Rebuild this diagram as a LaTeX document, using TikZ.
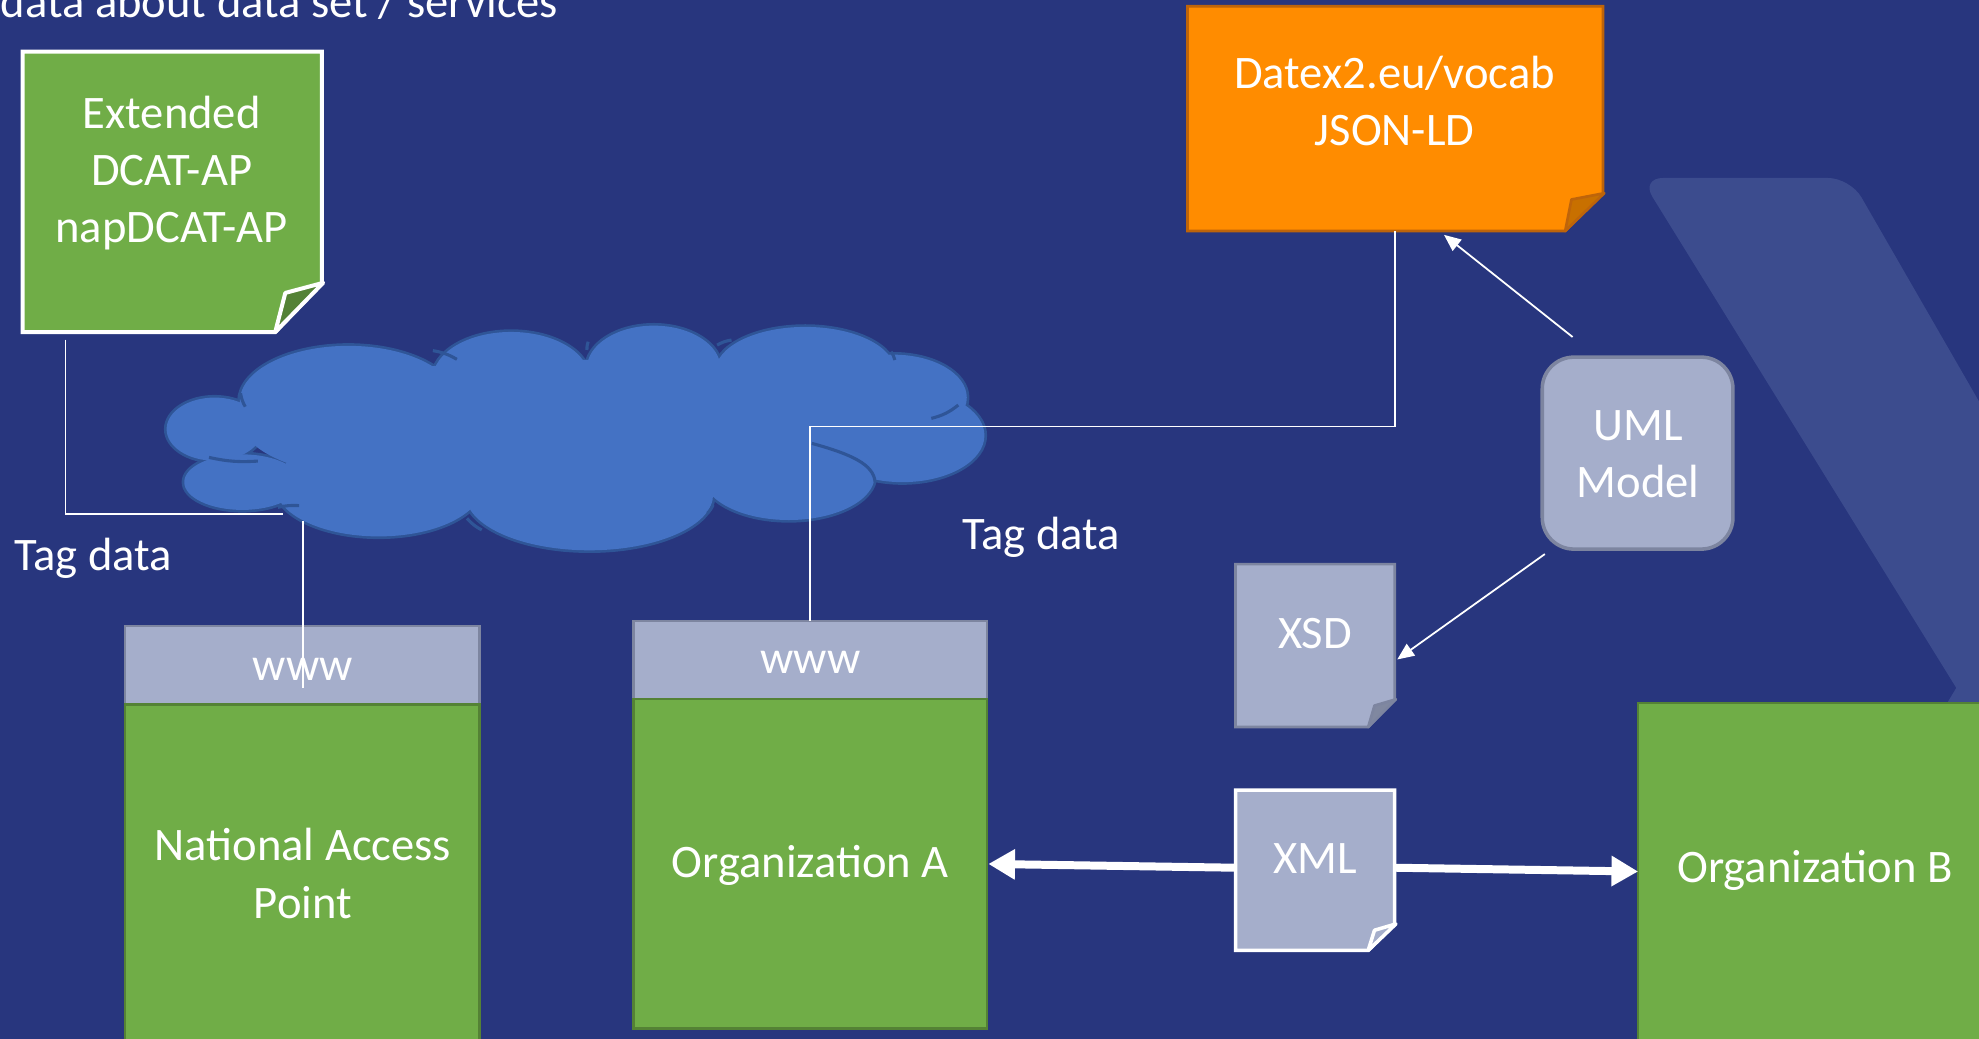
\documentclass[tikz,border=0pt]{standalone}
\usepackage{fontspec}
\setmainfont{Carlito}
\usetikzlibrary{calc,arrows.meta}
\definecolor{bg}{RGB}{40,54,126}
\definecolor{deco}{RGB}{60,76,142}
\definecolor{grn}{RGB}{112,173,71}
\definecolor{grnd}{RGB}{84,130,53}
\definecolor{grnb}{RGB}{84,130,53}
\definecolor{orng}{RGB}{255,140,0}
\definecolor{orngd}{RGB}{200,112,0}
\definecolor{orngb}{RGB}{190,100,10}
\definecolor{lav}{RGB}{165,174,203}
\definecolor{lavd}{RGB}{128,136,160}
\definecolor{lavb}{RGB}{125,133,160}
\definecolor{cloudf}{RGB}{68,114,196}
\definecolor{cloudb}{RGB}{47,85,151}
\begin{document}
\begin{tikzpicture}[x=0.01cm,y=-0.01cm,
  font=\fontsize{10.5}{12.9}\selectfont,
  txt/.style={text=white,align=center,inner sep=0pt},
  boxn/.style={rectangle,inner sep=0pt,outer sep=0pt},
  wwwbox/.style={boxn,fill=lav,draw=lavb,line width=0.6pt},
  orgbox/.style={boxn,fill=grn,draw=grnb,line width=0.6pt},
  thinline/.style={draw=white,line width=0.4pt},
  thinarrow/.style={draw=white,line width=0.4pt,-{Triangle[length=3.8pt,width=3.2pt]}},
  thickarrow/.style={draw=white,line width=1.8pt,-{Triangle[length=6pt,width=6.5pt]}},
  cloudpuff/.style={fill=cloudf,draw=cloudb,line width=1.2pt},
  hook/.style={draw=cloudb,line width=0.7pt}
]
\useasboundingbox (0,0) rectangle (1568,823);
\clip (0,0) rectangle (1568,823);
\fill[bg] (0,0) rectangle (1568,823);
% decorative band
\fill[deco] (1380,141) [rounded corners=5pt] -- (1466,141) [sharp corners] -- (1640,443) -- (1640,830) -- (1379,830) -- (1550,545) [rounded corners=5pt] -- (1300,141) [sharp corners] -- cycle;

% title
\node[txt,anchor=base east] (title) at (443,14) {data about data set / services};

% green note
\node[boxn,minimum width=2.37cm,minimum height=2.22cm] (gnote) at (136.5,152) {};
\fill[grn,draw=white,line width=0.9pt] (gnote.north west) -- (gnote.north east) -- ($(gnote.south east)+(0,-39)$) -- ($(gnote.south east)+(-37,0)$) -- (gnote.south west) -- cycle;
\filldraw[fill=grnd,draw=white,line width=0.9pt,line join=round] ($(gnote.south east)+(1,-39)$) -- ($(gnote.south east)+(-29,-31)$) -- ($(gnote.south east)+(-37,0)$) -- cycle;
\node[txt] (gtext) at (136,137) {Extended\\DCAT-AP\\napDCAT-AP};

% orange note
\node[boxn,minimum width=3.29cm,minimum height=1.78cm] (onote) at (1105.5,94) {};
\fill[orng,draw=orngb,line width=0.6pt] (onote.north west) -- (onote.north east) -- ($(onote.south east)+(0,-30)$) -- ($(onote.south east)+(-30,0)$) -- (onote.south west) -- cycle;
\filldraw[fill=orngd,draw=orngb,line width=0.6pt,line join=round] ($(onote.south east)+(1,-30)$) -- ($(onote.south east)+(-25,-25)$) -- ($(onote.south east)+(-30,0)$) -- cycle;
\node[txt] (otext) at (1105,80) {Datex2.eu/vocab\\JSON-LD};

% UML model
\node[boxn,fill=lav,draw=lavb,line width=0.8pt,rounded corners=0.25cm,minimum width=1.51cm,minimum height=1.52cm] (uml) at (1297.5,359) {};
\node[txt] (umltext) at (1298,360) {UML\\Model};

% XSD
\node[boxn,minimum width=1.26cm,minimum height=1.29cm] (xsd) at (1042,511.5) {};
\fill[lav,draw=lavb,line width=0.6pt] (xsd.north west) -- (xsd.north east) -- ($(xsd.south east)+(0,-22)$) -- ($(xsd.south east)+(-21,0)$) -- (xsd.south west) -- cycle;
\filldraw[fill=lavd,draw=lavb,line width=0.6pt,line join=round] ($(xsd.south east)+(1,-22)$) -- ($(xsd.south east)+(-16,-17)$) -- ($(xsd.south east)+(-21,0)$) -- cycle;
\node[txt] (xsdtext) at (1042,502) {XSD};

% XML
\node[boxn,minimum width=1.26cm,minimum height=1.27cm] (xml) at (1042,689.5) {};
\fill[lav,draw=white,line width=0.8pt] (xml.north west) -- (xml.north east) -- ($(xml.south east)+(0,-21)$) -- ($(xml.south east)+(-21,0)$) -- (xml.south west) -- cycle;
\filldraw[fill=lav,draw=white,line width=0.8pt,line join=round] ($(xml.south east)+(1,-21)$) -- ($(xml.south east)+(-16,-16)$) -- ($(xml.south east)+(-21,0)$) -- cycle;
\node[txt] (xmltext) at (1042,680) {XML};

% NAP
\node[wwwbox,minimum width=2.81cm,minimum height=0.62cm] (wwwN) at (239.5,527) {};
\node[orgbox,minimum width=2.81cm,minimum height=2.72cm] (nap) at (239.5,694) {};
\node[txt] (wwwNtext) at (240,530) {www};
\node[txt] (naptext) at (240,692) {National Access\\Point};

% Org A
\node[wwwbox,minimum width=2.80cm,minimum height=0.62cm] (wwwA) at (642,523) {};
\node[orgbox,minimum width=2.80cm,minimum height=2.61cm] (orgA) at (642,684.5) {};
\node[txt] (wwwAtext) at (642,525) {www};
\node[txt] (orgAtext) at (642,686) {Organization A};

% Org B
\node[orgbox,minimum width=2.80cm,minimum height=2.73cm] (orgB) at (1438,693.5) {};
\node[txt] (orgBtext) at (1438,690) {Organization B};

% cloud
\foreach \cx/\cy/\rx/\ry in {276/318/86/44, 405/300/62/37, 518/292/53/34, 638/294/71/35, 708/315/58/34, 715/345/65/37, 625/377/68/35, 467/392/98/44, 300/385/82/40, 192/382/46/22, 170/340/38/25}
  \filldraw[cloudpuff] (\cx,\cy) ellipse [x radius=\rx, y radius=\ry];
\foreach \cx/\cy/\rx/\ry in {276/318/86/44, 405/300/62/37, 518/292/53/34, 638/294/71/35, 708/315/58/34, 715/345/65/37, 625/377/68/35, 467/392/98/44, 300/385/82/40, 192/382/46/22, 170/340/38/25}
  \fill[cloudf] (\cx,\cy) ellipse [x radius=\rx, y radius=\ry];
\fill[cloudf] (450,340) ellipse [x radius=255, y radius=55];
\draw[hook] (343,277.8) to[bend left=10] (362,284.7);
\draw[hook] (466,270.7) to[bend right=10] (465,277.3);
\draw[hook] (579.6,269.4) to[bend right=10] (568.2,273.4);
\draw[hook] (706,278.6) to[bend left=10] (709,285.2);
\draw[hook] (759.3,320.9) to[bend left=12] (737.9,331.5);
\draw[hook] (643.3,351.3) .. controls (675,360) and (692,368) .. (693.3,381.6);
\draw[hook] (565,400) to[bend left=10] (560.5,406.7);
\draw[hook] (370,410.7) to[bend right=10] (381.7,419.9);
\draw[hook] (220.2,402) to[bend left=8] (237,400.6);
\draw[hook] (165.6,362.4) to[bend right=8] (204.3,365.3);
\draw[hook] (190.6,311.6) to[bend right=10] (194.3,322.2);
\coordinate (cl1) at (224,407);
\coordinate (cl2) at (240,413);
\coordinate (wN) at (240,545);

% connectors
\draw[thinline] ($(gnote.south west)+(34,6)$) |- (cl1);
\draw[thinline] (cl2) -- (wN);
\draw[thinline] (wwwA.north) -- ++(0,-154) -| (onote.south);
\coordinate (u1) at (1246,267);
\coordinate (u2) at (1224,439);
\draw[thinarrow] (u1) -- ($(onote.south east)+(-126,3)$);
\draw[thinarrow] (u2) -- ($(xsd.east)+(2,11)$);
\draw[thickarrow] ($(xml.west)+(0,-2)$) -- ($(orgA.east)+(1,0)$);
\draw[thickarrow] ($(xml.east)+(0,-2)$) -- ($(orgB.west)+(0,-3)$);

% labels
\node[txt] (tag1) at (74,442) {Tag data};
\node[txt] (tag2) at (825,426) {Tag data};
\end{tikzpicture}
\end{document}
